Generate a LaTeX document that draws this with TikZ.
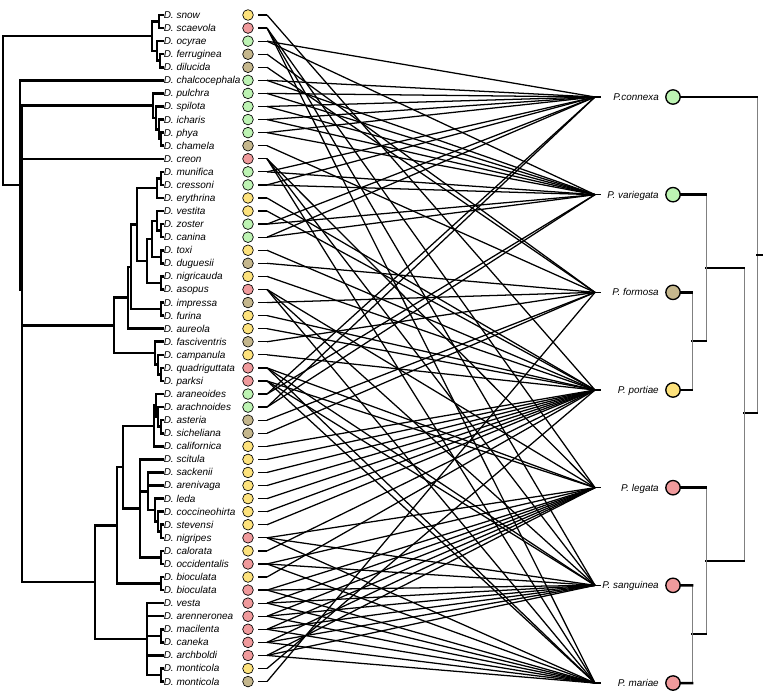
\documentclass[tikz,border=0pt]{standalone}
\usepackage{fontspec}
\setmainfont{Liberation Sans}
\definecolor{cG}{HTML}{BDF3B3}
\definecolor{cT}{HTML}{C5B78D}
\definecolor{cY}{HTML}{FDE27C}
\definecolor{cR}{HTML}{F09A9C}
\tikzset{
 treeline/.style={line width=1.9pt, line cap=rect},
 thinv/.style={line width=0.7pt, draw=gray},
 conn/.style={line width=0.95pt},
 lab/.style={anchor=west, inner sep=0pt, font=\fontsize{7.5}{9}\selectfont\itshape, text height=0.72em, text depth=0.2em},
 rlab/.style={anchor=east, inner sep=0pt, font=\fontsize{7.4}{9}\selectfont\itshape, text height=0.72em, text depth=0.2em},
 lc/.style={circle, draw=black, line width=0.5pt, minimum size=8pt, inner sep=0pt},
 rc/.style={circle, draw=black, line width=1pt, minimum size=10.8pt, inner sep=0pt},
}
\begin{document}
\begin{tikzpicture}[x=0.75pt,y=-0.75pt]
\useasboundingbox (0,0) rectangle (763,695);
% leaves
\foreach \i/\nm/\c/\px in {1/snow/Y/159, 2/scaevola/R/159, 3/ocyrae/G/157, 4/ferruginea/T/160, 5/dilucida/T/160,
 6/chalcocephala/G/20, 7/pulchra/G/153, 8/spilota/G/156, 9/icharis/G/159, 10/phya/G/161, 11/chamela/T/161,
 12/creon/R/22, 13/munifica/G/161, 14/cressoni/G/161, 15/erythrina/Y/157, 16/vestita/Y/157, 17/zoster/G/161,
 18/canina/G/161, 19/toxi/Y/161, 20/duguesii/T/161, 21/nigricauda/Y/161, 22/asopus/R/161, 23/impressa/T/161,
 24/furina/Y/161, 25/aureola/Y/128, 26/fasciventris/T/155, 27/campanula/Y/158, 28/quadriguttata/R/161,
 29/parksi/R/161, 30/araneoides/G/156, 31/arachnoides/G/158, 32/asteria/T/161, 33/sicheliana/T/161,
 34/californica/Y/154, 35/scitula/Y/140, 36/sackenii/Y/148, 37/arenivaga/Y/148, 38/leda/Y/155,
 39/coccineohirta/Y/158, 40/stevensi/Y/161, 41/nigripes/R/161, 42/calorata/Y/161, 43/occidentalis/R/161,
 44/bioculata/Y/161, 45/bioculata/R/161, 46/vesta/R/147, 47/arenneronea/R/147, 48/macilenta/R/161,
 49/caneka/R/161, 50/archboldi/R/147, 51/monticola/Y/161, 52/monticola/T/161} {
  \pgfmathsetmacro{\yy}{15+13.07*(\i-1)}
  \coordinate (t\i) at (162.5,\yy);
  \draw[treeline] (\px,\yy) -- (t\i);
  \node[lab] (n\i) at (163.5,\yy) {D. \nm};
  \node[lc, fill=c\c] (L\i) at (248,\yy) {};
  \coordinate (Ls\i) at (258,\yy);
  \coordinate (Le\i) at (267,\yy);
  \draw[conn] (Ls\i) -- (Le\i);
}
% left tree verticals
\foreach \x/\a/\b in {3/36.2/185.2, 20/80.35/290, 22/105.68/582.2, 152/21.5/50.95, 159/15/28.07,
 157/41.14/60.75, 160/54.21/67.28, 153/93.42/117.93, 156/106.49/129.37, 159/119.56/139.17, 161/132.63/145.7,
 114/297.74/353.19, 128/266.8/328.68, 131/224.53/309.08, 137/188.18/260.88, 157/178.38/197.98,
 161/171.84/184.91, 147/238.83/282.94, 152/220.86/256.8, 157/211.05/230.66, 161/224.12/237.19,
 161/250.26/263.33, 161/276.4/289.47, 161/302.54/315.61, 155/341.75/364.62, 158/354.82/374.43,
 161/367.89/380.96, 95/525.35/639.1, 117/467.14/583.55, 123/425.89/508.39, 154/405.47/446.31,
 156/394.03/416.9, 158/407.1/426.7, 161/420.17/433.24, 140/459.38/557.4, 148/472.45/510.03,
 155/498.59/521.47, 158/511.66/531.27, 161/524.73/537.8, 161/550.87/563.94, 161/577.01/590.08,
 147/603.15/675.04, 161/629.29/642.36, 161/668.5/681.57}
  \draw[treeline] (\x,\a) -- (\x,\b);
% left tree horizontals
\foreach \a/\b/\y in {3/152/36.2, 3/20/185.2, 20/22/290, 22/153/105.68, 22/114/325.46, 22/95/582.2,
 152/159/21.5, 152/157/50.95, 157/160/60.75, 153/156/117.93, 156/159/129.37, 159/161/139.17,
 114/128/297.74, 114/155/353.19, 128/131/266.8, 131/137/224.53, 131/161/309.08,
 137/157/188.18, 157/161/178.38, 137/147/260.88, 147/152/238.83, 147/161/282.94,
 152/157/220.86, 152/161/256.8, 157/161/230.66, 155/158/364.62, 158/161/374.43,
 95/117/525.35, 95/147/639.1, 117/123/467.14, 117/161/583.55, 123/154/425.89, 123/140/508.39,
 154/156/405.47, 156/158/416.9, 158/161/426.7, 140/148/491.24, 140/161/557.4, 148/155/510.03,
 155/158/521.47, 158/161/531.27, 147/161/635.83, 147/161/675.04}
  \draw[treeline] (\a,\y) -- (\b,\y);
% right side
\foreach \j/\nm/\c in {1/{P.connexa}/G, 2/{P. variegata}/G, 3/{P. formosa}/T, 4/{P. portiae}/Y,
 5/{P. legata}/R, 6/{P. sanguinea}/R, 7/{P. mariae}/R} {
  \pgfmathsetmacro{\yy}{97+97.67*(\j-1)}
  \node[rc, fill=c\c] (R\j) at (673,\yy) {};
  \node[rlab] (P\j) at (659,\yy) {\nm};
  \coordinate (Rs\j) at (595,\yy);
  \coordinate (Re\j) at (601,\yy);
  \draw[conn] (Rs\j) -- (Re\j);
}
% connectors
\foreach \i in {3,6,7,8,9,10,13,14,17,18,30,31} {
  \draw[conn] (Le\i) -- (Rs1);
  \draw[conn] (Le\i) -- (Rs2);
}
\foreach \i in {4,5,11,20,23,26,32,33,52}
  \draw[conn] (Le\i) -- (Rs3);
\foreach \i in {1,15,16,19,21,24,25,27,34,35,36,37,38,39,40,42,44,51}
  \draw[conn] (Le\i) -- (Rs4);
\foreach \i in {2,12,22,28,29,41,43,45,46,47,48,49,50} {
  \draw[conn] (Le\i) -- (Rs5);
  \draw[conn] (Le\i) -- (Rs6);
  \draw[conn] (Le\i) -- (Rs7);
}
% right tree
\draw[thinv] (757,97) -- (757,413);
\draw[treeline] (R1.east) -- (757,97);
\draw[treeline] (757,255) -- (762,255);
\draw[treeline] (744,413) -- (757,413);
\draw[thinv] (744,268) -- (744,561);
\draw[treeline] (706,268) -- (744,268);
\draw[treeline] (706,561) -- (744,561);
\draw[thinv] (706,194.67) -- (706,341);
\draw[treeline] (R2.east) -- (706,194.67);
\draw[treeline] (692,341) -- (706,341);
\draw[thinv] (692,292.34) -- (692,390.01);
\draw[treeline] (R3.east) -- (692,292.34);
\draw[treeline] (R4.east) -- (692,390.01);
\draw[thinv] (706,487.68) -- (706,634);
\draw[treeline] (R5.east) -- (706,487.68);
\draw[treeline] (692,634) -- (706,634);
\draw[thinv] (692,585.35) -- (692,683.02);
\draw[treeline] (R6.east) -- (692,585.35);
\draw[treeline] (R7.east) -- (692,683.02);
\end{tikzpicture}
\end{document}
